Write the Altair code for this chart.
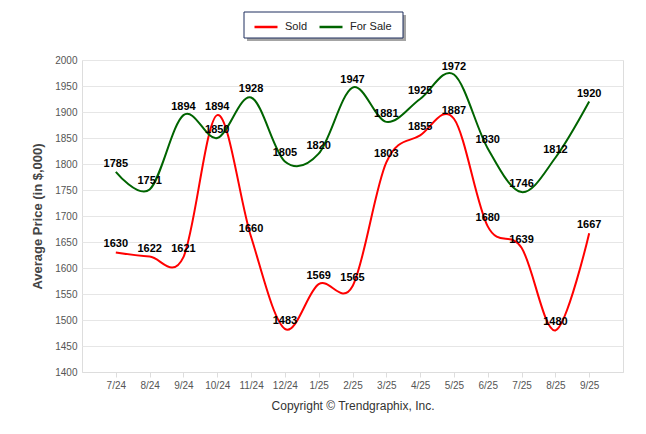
import altair as alt
import pandas as pd

months = ["7/24", "8/24", "9/24", "10/24", "11/24", "12/24", "1/25", "2/25",
          "3/25", "4/25", "5/25", "6/25", "7/25", "8/25", "9/25"]
sold = [1630, 1622, 1621, 1894, 1660, 1483, 1569, 1565, 1803, 1855, 1887, 1680, 1639, 1480, 1667]
for_sale = [1785, 1751, 1894, 1850, 1928, 1805, 1820, 1947, 1881, 1925, 1972, 1830, 1746, 1812, 1920]
series_names = ["Sold", "For Sale"]
series_colors = ["#ff0000", "#006400"]
y_ticks = list(range(1400, 2001, 50))

rows = []
for name, vals in zip(series_names, [sold, for_sale]):
    for m, v in zip(months, vals):
        rows.append({"month": m, "series": name, "value": v})
df = pd.DataFrame(rows)

FONT = "Liberation Sans"

x_enc = alt.X("month:O", sort=months,
              scale=alt.Scale(type="point", padding=1),
              axis=alt.Axis(title="Copyright \u00a9 Trendgraphix, Inc.", labelAngle=0,
                            labelFont=FONT, labelFontSize=10, labelColor="#555555",
                            titleFont=FONT, titleFontSize=12, titleFontWeight="normal",
                            titleColor="#333333", titlePadding=10,
                            domainColor="#dddddd", tickColor="#dddddd", tickSize=5,
                            labelPadding=3, grid=False))
y_enc = alt.Y("value:Q", scale=alt.Scale(domain=[1400, 2000], nice=False, zero=False),
              axis=alt.Axis(title="Average Price (in $,000)", values=y_ticks, format="d",
                            labelOverlap=False, tickCount=13,
                            labelFont=FONT, labelFontSize=10, labelColor="#555555",
                            titleFont=FONT, titleFontSize=13, titleFontWeight="bold",
                            titleColor="#444444", titlePadding=10,
                            domain=False, ticks=False, labelPadding=5,
                            gridColor="#e6e6e6", gridWidth=1))

color_enc = alt.Color("series:N", sort=series_names,
                      scale=alt.Scale(domain=series_names, range=series_colors),
                      legend=alt.Legend(title=None, orient="none", direction="horizontal",
                                        legendX=171, legendY=-46,
                                        symbolType="stroke", symbolSize=529,
                                        symbolStrokeWidth=2.5,
                                        labelFont=FONT, labelFontSize=11, labelColor="#222222",
                                        labelOffset=6, columnPadding=6,
                                        padding=0))

base = alt.Chart(df)
one_row = base.transform_filter(alt.datum.month == "7/24").transform_filter(alt.datum.series == "Sold")

shadow = one_row.mark_rect(color="#9a9a9a", opacity=0.9).encode(
    x=alt.value(165), x2=alt.value(324), y=alt.value(-45), y2=alt.value(-19)
)
box = one_row.mark_rect(fill="#ffffff", stroke="#1f2f5f", strokeWidth=1).encode(
    x=alt.value(162), x2=alt.value(321), y=alt.value(-48), y2=alt.value(-22)
)

lines = base.mark_line(interpolate="cardinal", strokeWidth=2).encode(
    x=x_enc, y=y_enc, color=color_enc, detail="series:N"
)

labels = base.mark_text(font=FONT, fontSize=11, fontWeight="bold", color="#000000",
                        dy=-8, baseline="middle").encode(
    x=x_enc, y=y_enc, text="value:Q"
)

chart = alt.layer(shadow, box, lines, labels).properties(
    width=541, height=312,
    padding={"left": 74, "top": 52, "right": 15, "bottom": 54},
    autosize="none"
).configure_view(stroke=None).configure(background="#ffffff")

chart.save("out.html", embed_options={"renderer": "svg", "actions": False})
